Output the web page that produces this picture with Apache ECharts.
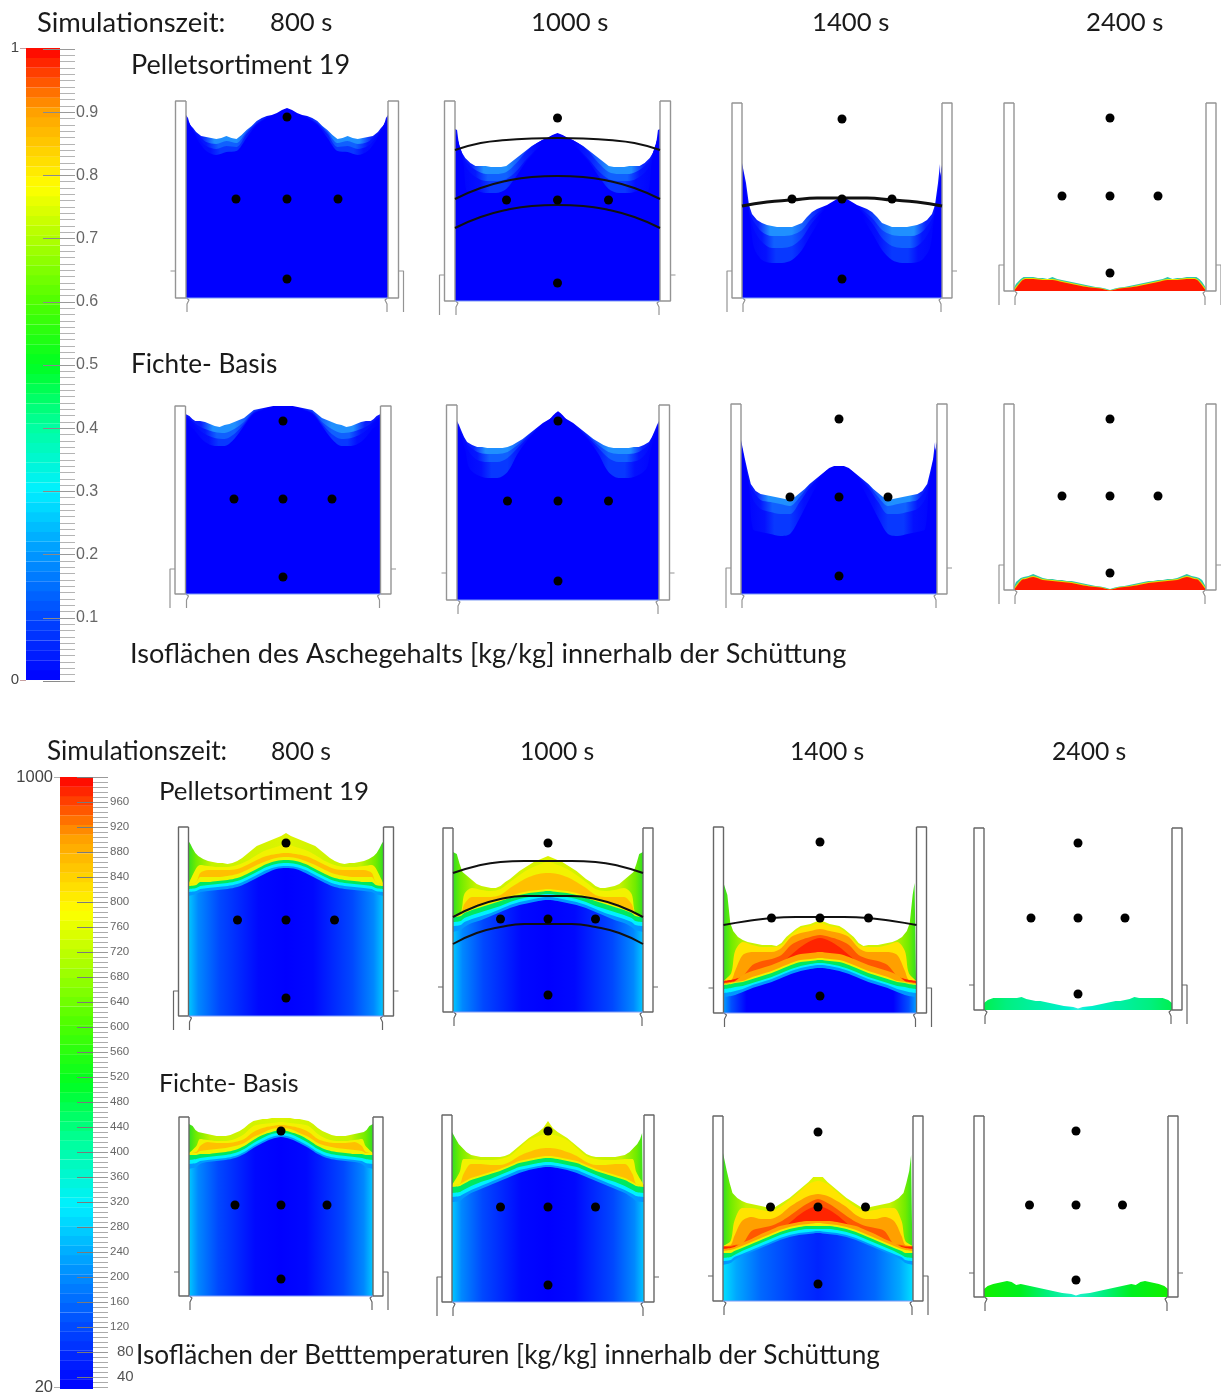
<!DOCTYPE html>
<html><head><meta charset="utf-8">
<style>html,body{margin:0;padding:0;background:#fff}#c{width:1221px;height:1396px}canvas{filter:blur(0.45px)}</style>
<script src="https://cdn.jsdelivr.net/npm/echarts@6/dist/echarts.min.js"></script>
</head><body><div id="c"></div>
<script>
// ---------- stations: percent of half width, from wall to centre ----------
const fine = [100,98,96,93,90,85,80,75,70,65,60,55,50,45,40,35,30,25,20,15,10,5,0];
const coarse = [100,92,88,80,70,60,50,40,30,20,10,0];
const arcStations = [100,75,50,25,0];

// ---------- ash content, bed height [px above grate] ----------
const ashP800 = [183,180,173,170,166,162,161,160,159,160,162,160,159,163,168,172,177,180,182,183,185,188,190];
const ashP800a = [181,167,163,156,154,157,155,166,175,180,184,189];
const ashP800b = [180,166,160,152,149,152,151,164,174,180,184,189];
const ashP800c = [178,165,157,147,143,146,147,160,173,179,183,188];
const ashP1000 = [172,171,155,148,143,138,135,135,135,134,134,134,135,139,143,147,151,155,158,161,163,166,168];
const ashP1000a = [171,145,138,131,127,127,129,138,150,158,163,167];
const ashP1000b = [170,143,132,124,120,120,122,130,142,152,160,165];
const ashP1000c = [171,138,110,110,108,108,112,125,140,150,160,166];
const ashP1400 = [135,134,115,93,84,78,75,73,72,71,71,71,71,73,75,81,86,89,91,93,96,99,100];
const ashP1400a = [133,85,76,66,62,62,63,68,80,88,95,99];
const ashP1400b = [132,82,68,56,50,50,52,60,75,86,94,98];
const ashP1400c = [130,78,50,38,35,35,38,48,65,80,90,97];
const ashP2400 = [3,7,9,12,14,14,14,13,13,12,14,12,11,10,9,8,7,6,5,4,3.5,2.5,1];
const ashP2400a = [2,11,13,13,12,12,10,8,6,4,3,0.8];
const ashP2400b = [0,10,12,12,11,11,9,7,5,3.5,2.5,0.5];
const ashF800 = [180,180,178,175,173,173,172,170,168,167,169,170,172,174,176,180,184,185,186,187,188,188,188];
const ashF800a = [178,172,169,165,162,161,165,172,182,185,187,187];
const ashF800b = [176,170,166,160,156,155,160,170,181,184,186,186];
const ashF800c = [170,165,160,152,148,148,155,168,180,184,186,186];
const ashF1000 = [179,175,170,163,158,155,153,153,152,152,152,152,153,155,158,161,165,169,173,177,180,183,189];
const ashF1000a = [177,160,154,148,146,146,148,155,164,172,179,188];
const ashF1000b = [176,158,148,140,138,138,142,152,162,171,178,187];
const ashF1000c = [175,150,132,125,122,122,128,146,160,170,178,186];
const ashF1400 = [154,152,135,122,110,103,100,99,98,97,96,95,94,97,101,105,110,114,118,122,126,128,128];
const ashF1400a = [152,114,104,94,92,90,88,97,109,117,125,127];
const ashF1400b = [151,112,95,85,82,80,80,92,106,116,124,126];
const ashF1400c = [150,108,65,62,60,58,60,76,95,112,122,125];
const ashF2400 = [3,8,10,12,13,14,16,14,12,11,11,10,10,9,9,8,7,6,5,4,3.5,2.5,1];
const ashF2400a = [2,11,12,14,11,10,9,8,6,4,3,0.8];
const ashF2400b = [0,10,11,13,10,9,8,7,5,3.5,2.5,0.5];

// ---------- bed temperature, contour heights [px above grate] ----------
const tP800 = [175,172,168,163,160,157,155,154,153,153,152,153,155,158,162,166,170,172,174,176,178,180,183];
const tP800y1 = [132,148,151,150,149,149,151,155,161,166,169,172];
const tP800o1 = [132,134,143,146,146,146,147,151,156,160,162,163];
const tP800y2 = [132,134,139,139,139,140,142,146,151,155,158,159];
const tP800gr = [130,131,134,134,135,136,138,142,147,152,155,156];
const tP800cy = [127,128,130,131,132,133,135,139,144,149,152,153];
const tP800sk = [124,125,127,128,129,130,132,136,141,146,149,150];
const tP800co = [120,122,124,125,126,127,129,133,138,143,147,148];

const tP1000 = [160,160,158,148,140,136,132,128,126,125,124,124,126,130,133,137,141,144,147,150,152,154,156];
const tP1000y1 = [97,99,118,124,122,121,123,130,137,143,147,150];
const tP1000o1 = [97,98,108,115,115,115,117,124,130,135,138,139];
const tP1000y2 = [97,98,101,104,107,110,113,116,119,121,122,123];
const tP1000gr = [95,96,99,102,105,108,111,114,117,119,120,121];
const tP1000cy = [90,91,94,97,100,103,106,110,113,115,117,118];
const tP1000sk = [86,87,90,93,96,99,103,107,110,112,114,115];
const tP1000co = [80,82,85,89,92,96,100,104,107,109,111,112];

const tP1400 = [130,130,118,90,82,76,73,71,70,69,68,68,68,67,70,76,80,84,87,88,89,91,93];
const tP1400y1 = [32,40,62,71,68,66,66,68,78,85,87,90];
const tP1400o1 = [32,33,42,58,61,61,61,65,76,80,82,84];
const tP1400r1 = [32,33,34,37,48,52,54,58,68,73,76,78];
const tP1400r2 = [32,33,34,36,41,44,46,50,58,66,72,75];
const tP1400o2 = [30,31,32,38,42,45,48,52,56,59,60,61];
const tP1400y2 = [29,30,31,32,36,39,42,46,50,53,54,55];
const tP1400gr = [28,29,30,31,34,37,40,44,48,51,52,53];
const tP1400cy = [24,25,26,27,30,33,36,40,44,47,49,50];
const tP1400sk = [20,21,22,24,28,31,34,38,42,45,47,48];
const tP1400co = [16,17,18,21,25,28,31,35,39,42,44,45];

const tP2400 = [7,9,10,11,12,12,12,12,12,12,13,11,10,9,9,8,7,6,5,4,3.5,3,1.5];

const tF800 = [172,172,170,166,164,163,162,161,160,160,160,161,163,165,168,172,175,176,177,177,178,178,178];
const tF800y1 = [143,150,157,156,155,155,157,162,170,172,173,174];
const tF800o1 = [143,144,150,154,153,153,154,157,164,168,170,171];
const tF800y2 = [143,143,145,146,147,148,150,153,159,163,167,168];
const tF800gr = [141,141,142,142,143,144,146,150,156,161,164,166];
const tF800cy = [136,137,138,139,140,141,143,147,153,158,162,163];
const tF800sk = [132,133,135,136,137,138,140,144,150,155,159,161];
const tF800co = [127,129,132,134,135,136,138,142,148,153,157,159];

const tF1000 = [170,169,163,158,155,150,147,146,145,145,145,145,145,146,148,152,156,160,164,167,170,174,181];
const tF1000y1 = [117,130,143,143,142,142,143,146,154,162,166,168];
const tF1000o1 = [117,118,128,138,138,137,137,140,146,150,153,154];
const tF1000y2 = [117,118,120,124,127,130,133,137,141,143,145,146];
const tF1000gr = [115,116,118,122,125,128,131,135,139,141,143,144];
const tF1000cy = [109,110,112,116,120,123,127,131,135,137,139,140];
const tF1000sk = [105,106,108,112,116,120,124,128,132,134,136,137];
const tF1000co = [100,101,104,109,113,117,121,125,129,132,134,135];

const tF1400 = [148,146,130,118,108,103,100,98,97,96,95,94,92,94,97,100,103,107,111,115,119,124,124];
const tF1400y1 = [55,60,80,93,93,91,90,94,101,109,117,120];
const tF1400o1 = [55,56,65,80,84,82,82,86,94,100,105,107];
const tF1400r1 = [55,55,56,57,70,73,75,79,85,92,98,102];
const tF1400r2 = [54,54,55,56,60,62,65,70,78,86,92,95];
const tF1400o2 = [52,53,54,58,62,67,71,75,77,79,80,80];
const tF1400y2 = [50,51,52,55,59,63,67,71,74,76,77,78];
const tF1400gr = [48,48,50,53,57,61,65,69,72,74,75,75];
const tF1400cy = [43,44,46,50,54,58,62,66,69,71,72,72];
const tF1400sk = [40,41,44,47,51,55,59,63,66,68,69,70];
const tF1400co = [36,38,41,45,49,53,57,61,64,66,67,68];

const tF2400 = [8,10,11,12,13,14,15,16,15,12,13,12,11,10,9,8,7,6,5,4,3.5,3,1.5];

// ---------- reaction-front arcs [px above grate] ----------
const arcAsh1000a = [151,158,161,162.5,163];
const arcAsh1000b = [102,113,120,124,125];
const arcAsh1000c = [73,84,91,95,96];
const arcAsh1400 = [92,96,98,100,100];
const arcT1000a = [139,146,150,151,151];
const arcT1000b = [95,106,113,116,116];
const arcT1000c = [68,79,85,88,88];
const arcT1400 = [88,92,95,96,96];

// ---------- tick labels and text ----------
const ashTickLabels = [0.1,0.2,0.3,0.4,0.5,0.6,0.7,0.8,0.9];
const times = ['800 s','1000 s','1400 s','2400 s'];
const colorStops = [[0,'#0000ff'],[0.1,'#0048ff'],[0.2,'#0098ff'],[0.3,'#00f0ff'],[0.4,'#00ffa0'],[0.5,'#00ff20'],[0.6,'#50ff00'],[0.7,'#b0ff00'],[0.78,'#ffff00'],[0.9,'#ffa000'],[1,'#ff0000']];

// ---------- layout tables: cx, half width, wall, wall top y, floor y, tab height, left bracket, right bracket ----------
const layout = [
 [287,101,10.5,101,298,27,0,1],[557.5,102.5,10.5,101,301,26,1,0],[842,100,10,103,298,27,1,0],[1110,96,10,103,291,26,1,1],
 [283,97.5,10.5,406,594,25,1,0],[558,101,10.5,405,600,27,0,0],[839,98,10,404,594,26,1,0],[1110,96,10,404,590,25,1,0],
 [286,97.5,10,827,1016,25,1,0],[548,95,10,828,1012,25,0,0],[820,96.5,10,827,1013,25,0,1],[1078,94,10,828,1010,25,0,1],
 [281,92,10,1117,1296,24,0,1],[548,96,10,1115,1302,25,1,0],[818,95,10,1116,1301,25,0,1],[1076,92,10,1116,1297,24,0,0]];
const dotLayout = [
 [51,181,99,19],[51,183,101,18],[50,179,99,19],[48,173,95,18],
 [49,173,95,17],[50.5,179,99,19],[49,175,97,18],[48,171,94,17],
 [48.5,173,96,18],[47.5,169,93,17],[48.5,171,95,17],[47,167,92,16],
 [46,165,91,17],[47.5,171,95,17],[47.5,169,94,17],[46.5,166,92,17]];

const grad = s => new echarts.graphic.LinearGradient(0,0,1,0,s.map(([o,c])=>({offset:o,color:c})));
const mirrorStops = s => s.concat(s.slice(0,-1).reverse().map(([o,c])=>[1-o,c]));
const ashCols = [
 grad(mirrorStops([[0,'#0a10ff'],[0.08,'#0a20ff'],[0.14,'#2090ff'],[0.25,'#2090ff'],[0.34,'#1040ff'],[0.42,'#0000ff'],[0.5,'#0000ff']])),
 grad(mirrorStops([[0,'#0000ff'],[0.1,'#0418ff'],[0.16,'#1060ff'],[0.25,'#1060ff'],[0.34,'#0820ff'],[0.42,'#0000ff'],[0.5,'#0000ff']])),
 grad(mirrorStops([[0,'#0000ff'],[0.12,'#0410ff'],[0.17,'#0838ff'],[0.25,'#0838ff'],[0.32,'#0410ff'],[0.4,'#0000ff'],[0.5,'#0000ff']])),
 '#0000ff'];
const ashRedCols = ['#2fc8a8','#e6e000','#ff1800'];
const surfPlain = mirrorStops([[0,'#30e020'],[0.04,'#70ec00'],[0.12,'#c4f200'],[0.5,'#dcf400']]);
const coreStops = mirrorStops([[0,'#00c8ff'],[0.05,'#0088ff'],[0.16,'#0048ff'],[0.36,'#0008ff'],[0.5,'#0000ff']]);
const coreNarrow = mirrorStops([[0,'#00a0ff'],[0.04,'#0050ff'],[0.12,'#0000ff'],[0.5,'#0000ff']]);
const coreWide = mirrorStops([[0,'#00e0ff'],[0.07,'#00a8ff'],[0.2,'#0068ff'],[0.4,'#0034ff'],[0.5,'#0024ff']]);
const greenA = mirrorStops([[0,'#00f050'],[0.12,'#00f080'],[0.3,'#00f0a8'],[0.45,'#00f0d0'],[0.5,'#30f0e0']]);
const greenB = mirrorStops([[0,'#10f000'],[0.2,'#00f020'],[0.35,'#00f080'],[0.5,'#20f0d0']]);

function ashSet(s,a,b,c){return [[fine,s,ashCols[0]],[coarse,a,ashCols[1]],[coarse,b,ashCols[2]],[coarse,c,ashCols[3]]];}
function redSet(s,a,b){return [[fine,s,ashRedCols[0]],[coarse,a,ashRedCols[1]],[coarse,b,ashRedCols[2]]];}
function coolSet(s,y1,o1,y2,gr,cy,sk,co){return [[fine,s,grad(surfPlain)],[coarse,y1,'#f2f200'],[coarse,o1,'#ffc000'],[coarse,y2,'#eef400'],[coarse,gr,'#00e860'],[coarse,cy,'#00f0ff'],[coarse,sk,'#0098ff'],[coarse,co,grad(coreStops)]];}
function hotSet(s,y1,o1,r1,r2,o2,y2,gr,cy,sk,co,stops){return [[fine,s,grad(surfPlain)],[coarse,y1,'#ffe400'],[coarse,o1,'#ffa000'],[coarse,r1,'#ff5800'],[coarse,r2,'#ff2400'],[coarse,o2,'#ffa400'],[coarse,y2,'#eef400'],[coarse,gr,'#00e860'],[coarse,cy,'#00f0ff'],[coarse,sk,'#0098ff'],[coarse,co,grad(stops)]];}

const panelLayers = [
 ashSet(ashP800,ashP800a,ashP800b,ashP800c),ashSet(ashP1000,ashP1000a,ashP1000b,ashP1000c),ashSet(ashP1400,ashP1400a,ashP1400b,ashP1400c),redSet(ashP2400,ashP2400a,ashP2400b),
 ashSet(ashF800,ashF800a,ashF800b,ashF800c),ashSet(ashF1000,ashF1000a,ashF1000b,ashF1000c),ashSet(ashF1400,ashF1400a,ashF1400b,ashF1400c),redSet(ashF2400,ashF2400a,ashF2400b),
 coolSet(tP800,tP800y1,tP800o1,tP800y2,tP800gr,tP800cy,tP800sk,tP800co),coolSet(tP1000,tP1000y1,tP1000o1,tP1000y2,tP1000gr,tP1000cy,tP1000sk,tP1000co),
 hotSet(tP1400,tP1400y1,tP1400o1,tP1400r1,tP1400r2,tP1400o2,tP1400y2,tP1400gr,tP1400cy,tP1400sk,tP1400co,coreNarrow),[[fine,tP2400,grad(greenA)]],
 coolSet(tF800,tF800y1,tF800o1,tF800y2,tF800gr,tF800cy,tF800sk,tF800co),coolSet(tF1000,tF1000y1,tF1000o1,tF1000y2,tF1000gr,tF1000cy,tF1000sk,tF1000co),
 hotSet(tF1400,tF1400y1,tF1400o1,tF1400r1,tF1400r2,tF1400o2,tF1400y2,tF1400gr,tF1400cy,tF1400sk,tF1400co,coreWide),[[fine,tF2400,grad(greenB)]]];
const panelArcs = {1:[[arcAsh1000a,2],[arcAsh1000b,2],[arcAsh1000c,2]],2:[[arcAsh1400,3]],9:[[arcT1000a,2],[arcT1000b,2],[arcT1000c,2]],10:[[arcT1400,2]]};

const grids=[],xAxes=[],yAxes=[],series=[];
function mirror(st,h,hw){
  const left=st.map((s,i)=>[-s*hw/100,h[i]]);
  const right=st.slice(0,-1).map((s,i)=>[s*hw/100,h[i]]).reverse();
  return left.concat(right);
}
layout.forEach((p,i)=>{
  const [cx,hw,w,top,floor,side,bl,br]=p, padL=24, padR=Math.min(24,1221-cx-hw), H=floor-top;
  const ax=grids.length;
  grids.push({left:cx-hw-padL,width:2*hw+padL+padR,top:top-5,height:H+5+20,show:false});
  xAxes.push({type:'value',gridIndex:ax,min:-(hw+padL),max:hw+padR,show:false});
  yAxes.push({type:'value',gridIndex:ax,min:-20,max:H+5,show:false});
  const axY=yAxes.length-1, axX=xAxes.length-1;
  const base={type:'line',xAxisIndex:axX,yAxisIndex:axY,symbol:'none',silent:true,animation:false,clip:false};
  panelLayers[i].forEach((l,k)=>{
    series.push({...base,z:2+k*0.01,data:mirror(l[0],l[1],hw),smooth:l[0]===coarse?0.3:false,
      lineStyle:{width:0},areaStyle:{color:l[2],opacity:1}});
  });
  const wallCol=i<8?'#949494':'#666666';
  const line=(data,col,width)=>series.push({...base,z:3,data,lineStyle:{color:col,width}});
  [-1,1].forEach(sgn=>{
    const W=hw+w;
    line([[sgn*hw,H],[sgn*W,H],[sgn*W,0],[sgn*hw,0],[sgn*hw,H]],wallCol,1.4);
    line([[sgn*(hw-0.5),0],[sgn*(hw-3),-2],[sgn*(hw-1),-6],[sgn*(hw-1),-14]],wallCol,1.2);
    const isB=sgn<0?bl:br;
    if(isB) line([[sgn*W,side],[sgn*(W+5),side],[sgn*(W+5),-14]],wallCol,1.2);
    else line([[sgn*W,side],[sgn*(W+5),side]],wallCol,1.2);
  });
  if(i%4!==3) line([[-hw,0],[hw,0]],'#7f9cf5',1);
  (panelArcs[i]||[]).forEach(a=>{
    series.push({...base,z:4,smooth:true,data:mirror(arcStations,a[0],hw),lineStyle:{color:'#111',width:a[1]}});
  });
  const d=dotLayout[i];
  series.push({type:'scatter',xAxisIndex:axX,yAxisIndex:axY,silent:true,animation:false,z:5,symbolSize:9,
    itemStyle:{color:'#000',opacity:1},data:[[0,d[1]],[-d[0],d[2]],[0,d[2]],[d[0],d[2]],[0,d[3]]]});
});

// ---------- colour bars ----------
function hex(c){return [1,3,5].map(i=>parseInt(c.substr(i,2),16));}
function ramp(t){
  for(let i=1;i<colorStops.length;i++){
    if(t<=colorStops[i][0]){
      const [a,ca]=colorStops[i-1],[b,cb]=colorStops[i],f=(t-a)/(b-a),A=hex(ca),B=hex(cb);
      return 'rgb('+A.map((v,j)=>Math.round(v+(B[j]-v)*f)).join(',')+')';
    }
  }
  return '#ff0000';
}
const bandCount=64;
const bandNames=Array.from({length:bandCount},(_,i)=>'b'+i);
function tickGrid(left,width,top,height,yOpt){
  const g=grids.length;
  grids.push({left,width,top,height,show:false});
  xAxes.push({type:'value',gridIndex:g,min:0,max:1,show:false});
  yAxes.push(Object.assign({type:'value',gridIndex:g,z:6,axisLine:{show:false},axisTick:{show:false},axisLabel:{show:false}},yOpt));
}
function colorBar(left,width,top,height){
  const g=grids.length;
  grids.push({left,width,top,height,show:false});
  xAxes.push({type:'value',gridIndex:g,min:0,max:1,show:false});
  yAxes.push({type:'category',gridIndex:g,data:bandNames,show:false});
  series.push({type:'bar',xAxisIndex:xAxes.length-1,yAxisIndex:yAxes.length-1,silent:true,animation:false,barWidth:'102%',z:1,
    data:bandNames.map((_,i)=>({value:1,itemStyle:{color:ramp((i+0.5)/bandCount)}}))});
}
const split=(c)=>({show:true,lineStyle:{color:c,width:1}});
// ash bar
colorBar(26,34,48,632);
tickGrid(43,17,49,632,{min:0,max:1,interval:0.1,splitLine:split('#8a8a8a')});
tickGrid(60,15,49,632,{min:0,max:1,interval:0.1,position:'right',splitLine:split('#9a9a9a'),
  minorTick:{show:false,splitNumber:10},minorSplitLine:split('#b4b4b4'),
  axisLabel:{show:true,margin:1,color:'#666',fontFamily:'Liberation Sans',fontSize:16,
    formatter:v=>ashTickLabels.some(t=>Math.abs(t-v)<1e-6)?v.toFixed(1):''}});
tickGrid(20,6,48,632,{min:0,max:1,interval:1,position:'left',splitLine:split('#c8a0a0'),
  axisLabel:{show:true,margin:1,color:'#444',fontFamily:'Liberation Sans',fontSize:15,formatter:v=>String(v)}});
// temperature bar
colorBar(60,33,777,612);
tickGrid(77,16,777,600,{min:40,max:1000,interval:40,splitLine:split('#7a7a7a')});
tickGrid(93,15,777,600,{min:40,max:1000,interval:40,position:'right',splitLine:split('#999'),
  minorTick:{show:false,splitNumber:5},minorSplitLine:split('#aaa'),
  axisLabel:{show:true,margin:2,color:'#666',fontFamily:'Liberation Sans',fontSize:11.5,
    formatter:v=>(v===1000)?'':(v===40||v===80)?'{b|'+v+'}':String(v),
    rich:{b:{fontSize:15,color:'#555',padding:[0,0,0,7],fontFamily:'Liberation Sans'}}}});
tickGrid(93,15,1377,10,{min:24,max:40,interval:8,splitLine:split('#aaa')});
tickGrid(54,6,777,612,{min:20,max:1000,interval:980,position:'left',splitLine:split('#b0b0b0'),
  axisLabel:{show:true,margin:1,color:'#444',fontFamily:'Liberation Sans',fontSize:16.5,formatter:v=>String(v)}});

// ---------- text ----------
const txt=(text,x,y,size)=>({type:'text',silent:true,z:20,style:{text,x,y,fill:'#1a1a1a',font:size+'px Lato, Carlito, sans-serif',textVerticalAlign:'middle',textBaseline:'middle'}});
const timesTopX=[270,531,812,1086], timesLowX=[271,520,790,1052];
const textEls=[
 txt('Simulationszeit:',37,23,27.4),
 txt('Pelletsortiment 19',131,65,27),
 txt('Fichte- Basis',131,365,26.2),
 txt('Isoflächen des Aschegehalts [kg/kg] innerhalb der Schüttung',130,654,27.1),
 txt('Simulationszeit:',47,752,26.2),
 txt('Pelletsortiment 19',159,792,25.9),
 txt('Fichte- Basis',159,1084,25),
 txt('Isoflächen der Betttemperaturen [kg/kg] innerhalb der Schüttung',136,1356,26.2),
 ...times.map((t,i)=>txt(t,timesTopX[i],23,25.7)),
 ...times.map((t,i)=>txt(t,timesLowX[i],752,24.7))];

const chart=echarts.init(document.getElementById('c'),null,{renderer:'canvas',width:1221,height:1396});
chart.setOption({animation:false,backgroundColor:'#fff',grid:grids,xAxis:xAxes,yAxis:yAxes,series,graphic:{elements:textEls}});
</script></body></html>
